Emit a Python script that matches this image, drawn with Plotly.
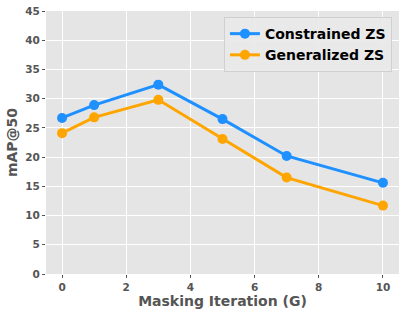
import plotly.graph_objects as go

iterations = [0, 1, 3, 5, 7, 10]
constrained_zs = [26.7, 28.9, 32.4, 26.5, 20.2, 15.6]
generalized_zs = [24.1, 26.8, 29.8, 23.1, 16.5, 11.7]
x_ticks = [0, 2, 4, 6, 8, 10]
y_ticks = [0, 5, 10, 15, 20, 25, 30, 35, 40, 45]

fig = go.Figure()
fig.add_trace(go.Scatter(x=iterations, y=constrained_zs, mode="lines+markers",
                         name="Constrained ZS",
                         line=dict(color="#1E90FF", width=3),
                         marker=dict(size=10, color="#1E90FF")))
fig.add_trace(go.Scatter(x=iterations, y=generalized_zs, mode="lines+markers",
                         name="Generalized ZS",
                         line=dict(color="#FFA500", width=3),
                         marker=dict(size=10, color="#FFA500")))

tickfont = dict(family="DejaVu Sans", size=10.5, color="#555555", weight="bold")
titlefont = dict(family="DejaVu Sans", size=14, color="#555555", weight="bold")

fig.update_layout(
    width=407, height=316,
    margin=dict(l=46, r=8, t=11, b=42),
    paper_bgcolor="white",
    plot_bgcolor="#E5E5E5",
    showlegend=True,
    legend=dict(x=0.98, y=0.977, xanchor="right", yanchor="top",
                bgcolor="rgba(233,233,233,0.9)", bordercolor="#D0D0D0", borderwidth=1,
                font=dict(family="DejaVu Sans", size=14, color="black", weight="bold"),
                itemwidth=30, tracegroupgap=0),
    xaxis=dict(range=[-0.5, 10.5], tickvals=x_ticks, showgrid=True, gridcolor="white",
               gridwidth=1, zeroline=False, ticks="outside", ticklen=3, tickcolor="#555555",
               tickfont=tickfont, automargin=False,
               title=dict(text="Masking Iteration (G)", font=titlefont, standoff=4)),
    yaxis=dict(range=[0, 45], tickvals=y_ticks, showgrid=True, gridcolor="white",
               gridwidth=1, zeroline=False, ticks="outside", ticklen=3, tickcolor="#555555",
               tickfont=tickfont, automargin=False,
               title=dict(text="mAP@50", font=titlefont, standoff=4)),
)

fig.write_html("out.html", config={"displayModeBar": False},
               post_script="document.body.style.margin='0';document.body.style.overflow='hidden';")
